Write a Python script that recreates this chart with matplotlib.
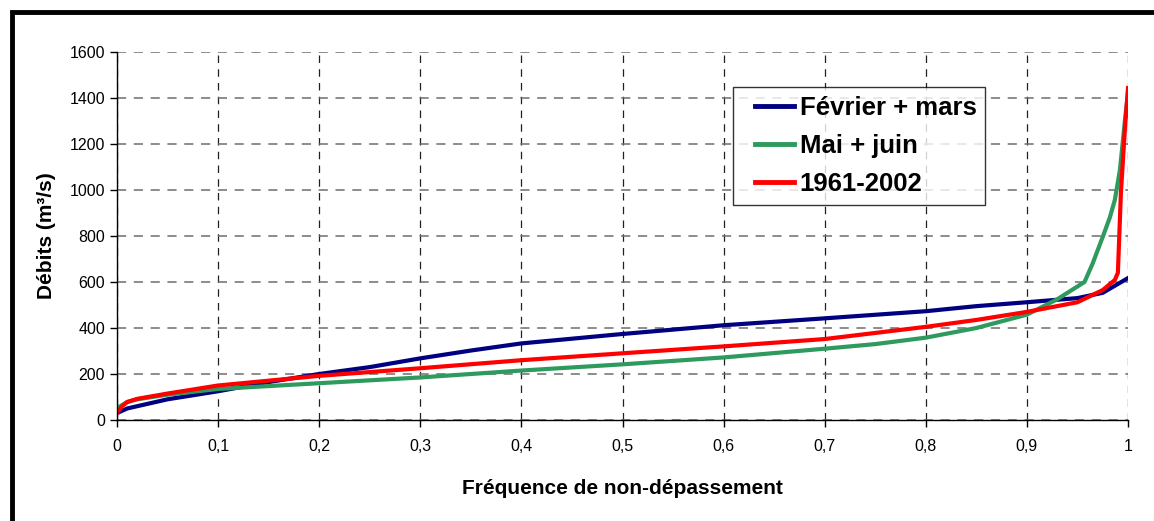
import matplotlib
matplotlib.use("Agg")
import matplotlib.pyplot as plt
from matplotlib.patches import Rectangle
from matplotlib.ticker import FuncFormatter
from matplotlib.legend_handler import HandlerLine2D

plt.rcParams['font.family'] = ['Liberation Sans', 'DejaVu Sans']

# courbes des débits classés
freq_fm = [0, 0.005, 0.01, 0.02, 0.05, 0.1, 0.15, 0.2, 0.25, 0.3, 0.35, 0.4, 0.5,
           0.6, 0.7, 0.8, 0.85, 0.9, 0.95, 0.975, 1.0]
q_fm = [30, 40, 50, 60, 90, 125, 165, 200, 230, 268, 302, 333, 374,
        412, 442, 473, 495, 512, 530, 553, 617]

freq_mj = [0, 0.005, 0.01, 0.02, 0.05, 0.1, 0.2, 0.3, 0.4, 0.5, 0.6, 0.7, 0.75,
           0.8, 0.85, 0.9, 0.93, 0.957, 0.965, 0.975, 0.982, 0.987, 0.992, 0.997, 1.0]
q_mj = [50, 65, 78, 90, 110, 135, 160, 185, 215, 242, 272, 310, 330,
        358, 400, 458, 525, 600, 680, 796, 880, 957, 1087, 1304, 1420]

freq_61 = [0, 0.005, 0.01, 0.02, 0.05, 0.1, 0.2, 0.3, 0.4, 0.5, 0.6, 0.7, 0.8,
           0.85, 0.9, 0.95, 0.975, 0.987, 0.99, 0.993, 0.997, 1.0]
q_61 = [30, 60, 78, 92, 115, 150, 192, 225, 260, 290, 320, 352, 405,
        435, 470, 512, 565, 609, 640, 990, 1270, 1443]

fig = plt.figure(figsize=(11.54, 5.21), dpi=100)
ax = fig.add_axes([117 / 1154, 101 / 521, 1011 / 1154, 368 / 521])

ax.plot(freq_fm, q_fm, color='#000080', lw=3, label='Février + mars')
ax.plot(freq_mj, q_mj, color='#2e9a5e', lw=3, label='Mai + juin')
ax.plot(freq_61, q_61, color='#ff0000', lw=3, label='1961-2002')

ax.set_xlim(0, 1)
ax.set_ylim(0, 1600)
ax.set_xticks([i / 10 for i in range(11)])
ax.set_yticks(range(0, 1601, 200))
ax.xaxis.set_major_formatter(FuncFormatter(lambda v, p: ('%g' % round(v, 1)).replace('.', ',')))
ax.yaxis.grid(True, color='#6e6e6e', linestyle=(0, (6, 5)), linewidth=1.1)
ax.xaxis.grid(True, color='#202020', linestyle=(0, (6, 5)), linewidth=0.9)
ax.set_axisbelow(True)
for s in ['top', 'right']:
    ax.spines[s].set_visible(False)
for s in ['left', 'bottom']:
    ax.spines[s].set_linewidth(1.0)
ax.tick_params(direction='out', length=5, labelsize=11.5, width=1)
ax.tick_params(axis='x', pad=9)

ax.set_xlabel('Fréquence de non-dépassement', fontsize=15, fontweight='bold', labelpad=18)
ax.set_ylabel('Débits (m³/s)', fontsize=15, fontweight='bold', labelpad=10)

# xpad décale le trait vers la droite dans la légende
hl = HandlerLine2D(xpad=0.52)
leg = ax.legend(loc='upper left', bbox_to_anchor=(0.609, 0.905), prop={'weight': 'bold', 'size': 18.5},
                frameon=True, fancybox=False, edgecolor='black', handlelength=2.05,
                handletextpad=0.2, borderpad=0.35, labelspacing=0.54, borderaxespad=0,
                handler_map={l: hl for l in ax.get_lines()})
leg.get_frame().set_linewidth(1.0)
for l in leg.get_lines():
    l.set_linewidth(3.5)

# cadre épais de la figure
fig.patches.append(Rectangle((12 / 1154, -0.05), 1.1, 1 - 12 / 521 + 0.05, transform=fig.transFigure,
                             fill=False, edgecolor='black', linewidth=3.5))

fig.savefig('out.png', dpi=100)
